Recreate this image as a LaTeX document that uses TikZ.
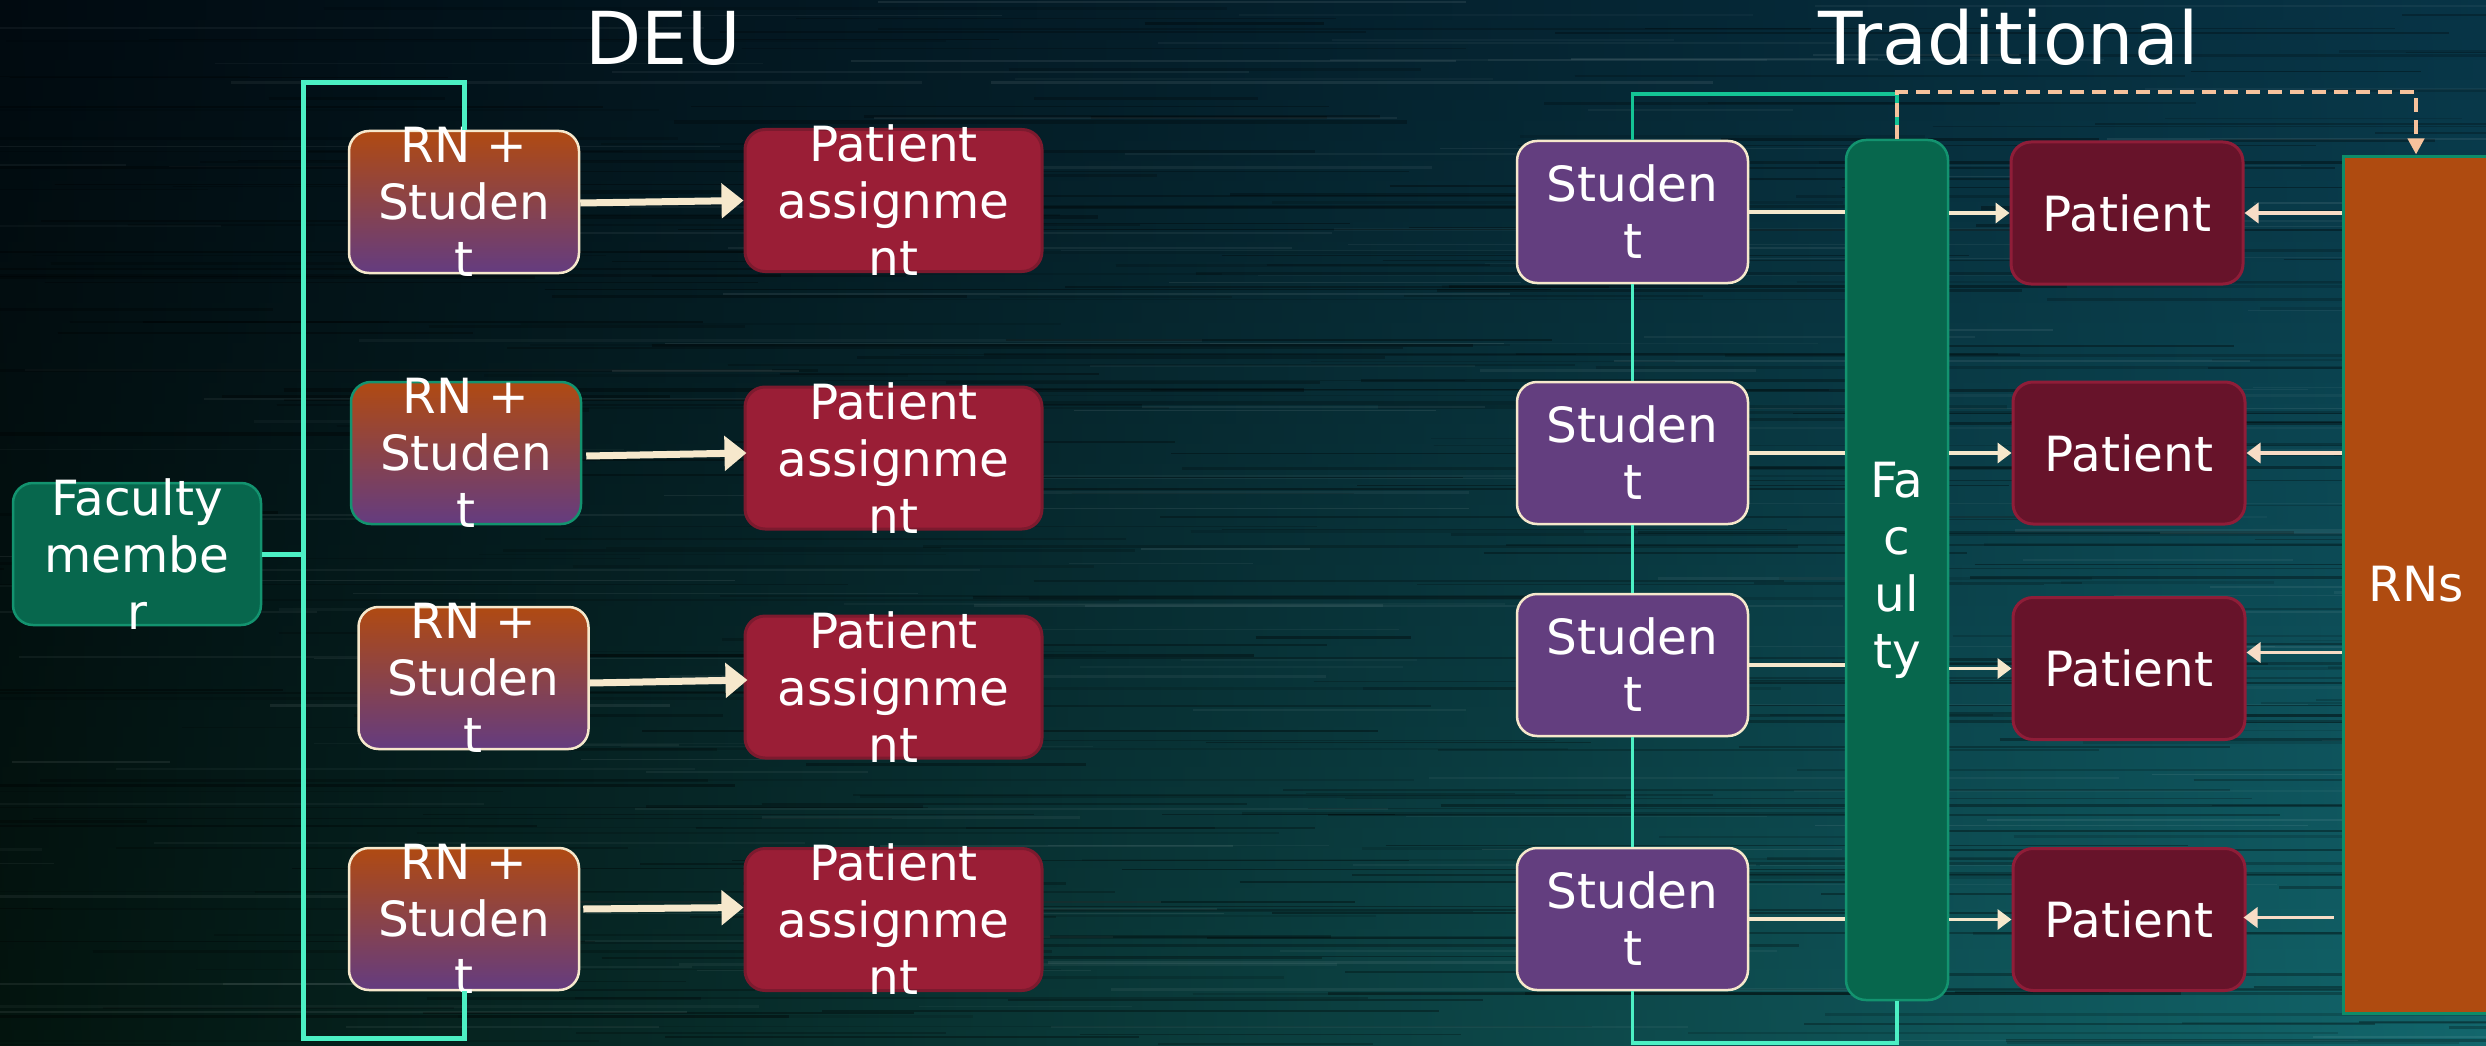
\documentclass[tikz,border=0pt]{standalone}
\usepackage{fontspec}
\setmainfont{DejaVu Sans}
\usetikzlibrary{arrows.meta,calc}

% background corner colours
\definecolor{bgTL}{HTML}{010A10}
\definecolor{bgTM}{HTML}{041C28}
\definecolor{bgTR}{HTML}{073446}
\definecolor{bgBL}{HTML}{03140E}
\definecolor{bgBM}{HTML}{0C3A2C}
\definecolor{bgBR}{HTML}{12666C}
% boxes and connectors
\definecolor{rnTop}{HTML}{B04A12}
\definecolor{rnBot}{HTML}{643C80}
\definecolor{cream}{HTML}{F6E8CC}
\definecolor{paFill}{HTML}{9A1E36}
\definecolor{paEdge}{HTML}{7C1A2E}
\definecolor{facFill}{HTML}{07674D}
\definecolor{facEdge}{HTML}{13936F}
\definecolor{stFill}{HTML}{633E7F}
\definecolor{ptFill}{HTML}{67132A}
\definecolor{ptEdge}{HTML}{8F1D38}
\definecolor{rnsFill}{HTML}{AF4B10}
\definecolor{rnsEdge}{HTML}{0E8C68}
\definecolor{aqua}{HTML}{4CF0C4}
\definecolor{aquaDim}{HTML}{14C495}
\definecolor{peach}{HTML}{F6C29C}
\definecolor{rnArrow}{HTML}{F8DCC6}

\tikzset{
  box/.style={rectangle, rounded corners=20pt, line width=2.5pt, inner sep=0pt},
  txt/.style={text=white, font=\fontsize{48.5}{57}\selectfont, align=center},
  title/.style={text=white, font=\fontsize{73}{80}\selectfont, anchor=base},
  rnbox/.style={box, top color=rnTop, bottom color=rnBot, draw=cream,
                minimum width=230pt, minimum height=142pt},
  pabox/.style={box, fill=paFill, draw=paEdge, line width=3pt,
                minimum width=297pt, minimum height=142pt},
  fmbox/.style={box, fill=facFill, draw=facEdge,
                minimum width=248pt, minimum height=142pt},
  stbox/.style={box, fill=stFill, draw=cream,
                minimum width=231pt, minimum height=142pt},
  ptbox/.style={box, fill=ptFill, draw=ptEdge, line width=3pt,
                minimum width=232pt, minimum height=142pt},
  bigarrow/.style={cream, line width=7pt, -{Triangle[length=22pt,width=34pt]}},
  facarrow/.style={cream, line width=3.5pt, -{Triangle[length=14pt,width=20pt]}},
  rnarrow/.style={rnArrow, line width=3.5pt, -{Triangle[length=14pt,width=20pt]}},
  plainlink/.style={cream, line width=3.5pt},
  bracket/.style={aqua, line width=5pt},
  loopline/.style={aqua, line width=3.5pt},
  dashlink/.style={peach, line width=4.5pt, dash pattern=on 14pt off 8pt,
                   -{Triangle[length=16pt,width=16pt]}},
}

\begin{document}
\begin{tikzpicture}[x=1pt,y=-1pt]
\useasboundingbox (0,0) rectangle (2486,1046);
\begin{scope}
\clip (0,0) rectangle (2486,1046);

% background: bilinear gradient built from horizontal strips
\foreach \i in {0,...,51} {
  \pgfmathtruncatemacro\t{100*\i/51}
  \colorlet{sL}{bgBL!\t!bgTL}
  \colorlet{sM}{bgBM!\t!bgTM}
  \colorlet{sR}{bgBR!\t!bgTR}
  \shade[left color=sL, middle color=sM, right color=sR]
    (-2,\i*20.2) rectangle (2490,\i*20.2+21);
}
% horizontal streak texture
\pgfmathsetseed{42}
\foreach \k in {1,...,380} {
  \pgfmathsetmacro\yy{rnd*1046}
  \pgfmathsetmacro\xx{rnd*2700-250}
  \pgfmathsetmacro\ll{150+rnd*900}
  \pgfmathsetmacro\ww{0.8+rnd*2.6}
  \pgfmathsetmacro\oo{0.10+rnd*0.25}
  \draw[black, line width=\ww pt, opacity=\oo] (\xx,\yy) -- ++(\ll,0);
}
\foreach \k in {1,...,160} {
  \pgfmathsetmacro\yy{rnd*1046}
  \pgfmathsetmacro\xx{rnd*2700-250}
  \pgfmathsetmacro\ll{150+rnd*700}
  \pgfmathsetmacro\ww{0.8+rnd*2}
  \pgfmathsetmacro\oo{0.03+rnd*0.05}
  \draw[white, line width=\ww pt, opacity=\oo] (\xx,\yy) -- ++(\ll,0);
}

% ---------- titles ----------
\node[title] (tdeu) at (663,65) {DEU};
\node[title] (ttrad) at (2009,65) {Traditional};

% ---------- DEU model ----------
\node[fmbox] (fm) at (137,554) {};
\node[txt] (fmt) at (fm.center) {Faculty\\membe\\r};

\node[rnbox] (r1) at (464,202) {};
\node[rnbox, draw=facEdge] (r2) at (466,453) {};
\node[rnbox] (r3) at (473.5,678) {};
\node[rnbox] (r4) at (464,919) {};
\foreach \n in {r1,r2,r3,r4}
  \node[txt] (\n t) at (\n.center) {RN +\\Studen\\t};

\node[pabox] (p1) at (893.5,200.5) {};
\node[pabox] (p2) at (893.5,458) {};
\node[pabox] (p3) at (893.5,687) {};
\node[pabox] (p4) at (893.5,919.5) {};
\foreach \n in {p1,p2,p3,p4}
  \node[txt] (\n t) at (\n.center) {Patient\\assignme\\nt};

% faculty bracket
\coordinate (btop) at (303,83);
\coordinate (bbot) at (303,1038);
\draw[bracket] (r1.north) |- (btop) -- (bbot) -| (r4.south);
\draw[bracket] (fm.east) -- (fm.east -| btop);

% RN + student to patient assignment
\draw[bigarrow] ([yshift=-1pt]r1.east) -- (p1.west);
\draw[bigarrow] ([xshift=4pt,yshift=-3pt]r2.east) -- ([xshift=3pt,yshift=5pt]p2.west);
\draw[bigarrow] ([yshift=-5pt]r3.east) -- ([xshift=4pt,yshift=7pt]p3.west);
\draw[bigarrow] ([xshift=3pt,yshift=10pt]r4.east) -- ([yshift=12pt]p4.west);

% ---------- Traditional model ----------
\node[stbox] (s1) at (1632.5,212) {};
\node[stbox] (s2) at (1632.5,453) {};
\node[stbox] (s3) at (1632.5,665) {};
\node[stbox] (s4) at (1632.5,919) {};
\foreach \n in {s1,s2,s3,s4}
  \node[txt] (\n t) at (\n.center) {Studen\\t};

\node[box, fill=facFill, draw=facEdge, minimum width=102pt, minimum height=860pt]
  (fac) at (1897,570) {};
\node[txt] (fact) at (fac.center) {Fa\\c\\ul\\ty};

\node[ptbox] (q1) at (2127,213) {};
\node[ptbox] (q2) at (2129,453) {};
\node[ptbox] (q3) at (2129,668.5) {};
\node[ptbox] (q4) at (2129,919.5) {};
\foreach \n in {q1,q2,q3,q4}
  \node[txt] (\n t) at (\n.center) {Patient};

\node[rectangle, fill=rnsFill, draw=rnsEdge, line width=3pt, inner sep=0pt,
      minimum width=146pt, minimum height=857pt] (rns) at (2416,584.5) {};
\node[txt] (rnst) at (rns.center) {RNs};

% students chained together and tied to the faculty bar
\coordinate (ltop) at (1897,94);
\coordinate (lbot) at (1897,1043);
\draw[loopline, draw=aquaDim] (s1.north) |- (ltop) -- (fac.north);
\draw[loopline] (s1.south) -- (s2.north);
\draw[loopline] (s2.south) -- (s3.north);
\draw[loopline] (s3.south) -- (s4.north);
\draw[loopline] (s4.south) |- (lbot) -- (fac.south);

% dashed link from faculty to RNs
\coordinate (dtop) at (1897,92);
\draw[dashlink] (fac.north) -- (dtop) -| (rns.north);

% student to faculty, faculty to patient, RNs to patient
\foreach \s/\q in {s1/q1,s2/q2,s3/q3,s4/q4} {
  \draw[plainlink] (\s.east) -- (\s.east -| fac.west);
  \draw[facarrow] (\q.west -| fac.east) -- (\q.west);
}
\draw[rnarrow] (q1.east -| rns.west) -- (q1.east);
\draw[rnarrow] (q2.east -| rns.west) -- (q2.east);
\draw[rnarrow] ([yshift=16pt]q3.east -| rns.west) -- ([yshift=16pt]q3.east);
\draw[rnarrow, shorten <=8pt] ([yshift=2pt]q4.east -| rns.west) -- ([yshift=2pt,xshift=-3pt]q4.east);
\end{scope}
\end{tikzpicture}
\end{document}
